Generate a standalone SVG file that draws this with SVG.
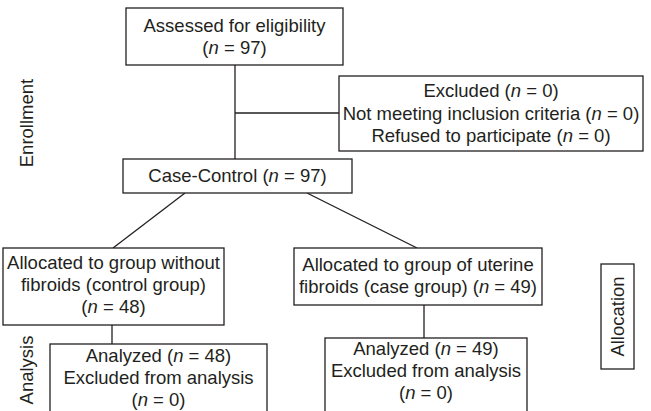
<svg xmlns="http://www.w3.org/2000/svg" width="651" height="411" viewBox="0 0 651 411">
<style>
.b{fill:#fff;stroke:#231f20;stroke-width:1.3}
.l{stroke:#231f20;stroke-width:1.3;fill:none}
text{font-family:"Liberation Sans",Arial,sans-serif;font-size:18.5px;fill:#231f20;text-anchor:middle}
.i{font-style:italic}
</style>
<rect width="651" height="411" fill="#fff"/>
<g id="connectors">
<line class="l" x1="235" y1="65" x2="235" y2="159"/>
<line class="l" x1="235" y1="113" x2="339" y2="113"/>
<line class="l" x1="185" y1="193" x2="113" y2="248"/>
<line class="l" x1="307" y1="193" x2="417" y2="248"/>
<line class="l" x1="112" y1="325" x2="112" y2="344"/>
<line class="l" x1="424" y1="305" x2="424" y2="338"/>
</g>
<g id="assessed">
<rect class="b" x="126" y="8" width="217" height="57"/>
<text x="234.5" y="32">Assessed for eligibility</text>
<text x="234.5" y="54">(<tspan class="i">n</tspan> = 97)</text>
</g>
<g id="excluded">
<rect class="b" x="339" y="76" width="304" height="75"/>
<text x="491" y="97">Excluded (<tspan class="i">n</tspan> = 0)</text>
<text x="491" y="120">Not meeting inclusion criteria (<tspan class="i">n</tspan> = 0)</text>
<text x="491" y="142">Refused to participate (<tspan class="i">n</tspan> = 0)</text>
</g>
<g id="casecontrol">
<rect class="b" x="123" y="159" width="229" height="34"/>
<text x="237.5" y="182">Case-Control (<tspan class="i">n</tspan> = 97)</text>
</g>
<g id="control">
<rect class="b" x="3" y="248" width="221" height="77"/>
<text x="113.5" y="269">Allocated to group without</text>
<text x="113.5" y="291">fibroids (control group)</text>
<text x="113.5" y="313">(<tspan class="i">n</tspan> = 48)</text>
</g>
<g id="case">
<rect class="b" x="294" y="248" width="248" height="57"/>
<text x="418" y="271">Allocated to group of uterine</text>
<text x="418" y="293">fibroids (case group) (<tspan class="i">n</tspan> = 49)</text>
</g>
<g id="analyzedControl">
<rect class="b" x="50" y="344" width="217" height="80"/>
<text x="158.5" y="362">Analyzed (<tspan class="i">n</tspan> = 48)</text>
<text x="158.5" y="384">Excluded from analysis</text>
<text x="158.5" y="406">(<tspan class="i">n</tspan> = 0)</text>
</g>
<g id="analyzedCase">
<rect class="b" x="325" y="338" width="202" height="86"/>
<text x="426" y="355">Analyzed (<tspan class="i">n</tspan> = 49)</text>
<text x="426" y="377">Excluded from analysis</text>
<text x="426" y="399">(<tspan class="i">n</tspan> = 0)</text>
</g>
<g id="enrollment">
<text transform="translate(33,123) rotate(-90)">Enrollment</text>
</g>
<g id="analysis">
<text transform="translate(33,370) rotate(-90)">Analysis</text>
</g>
<g id="allocation">
<rect class="b" x="601" y="264" width="33" height="105"/>
<text transform="translate(624,316.5) rotate(-90)">Allocation</text>
</g>
</svg>
